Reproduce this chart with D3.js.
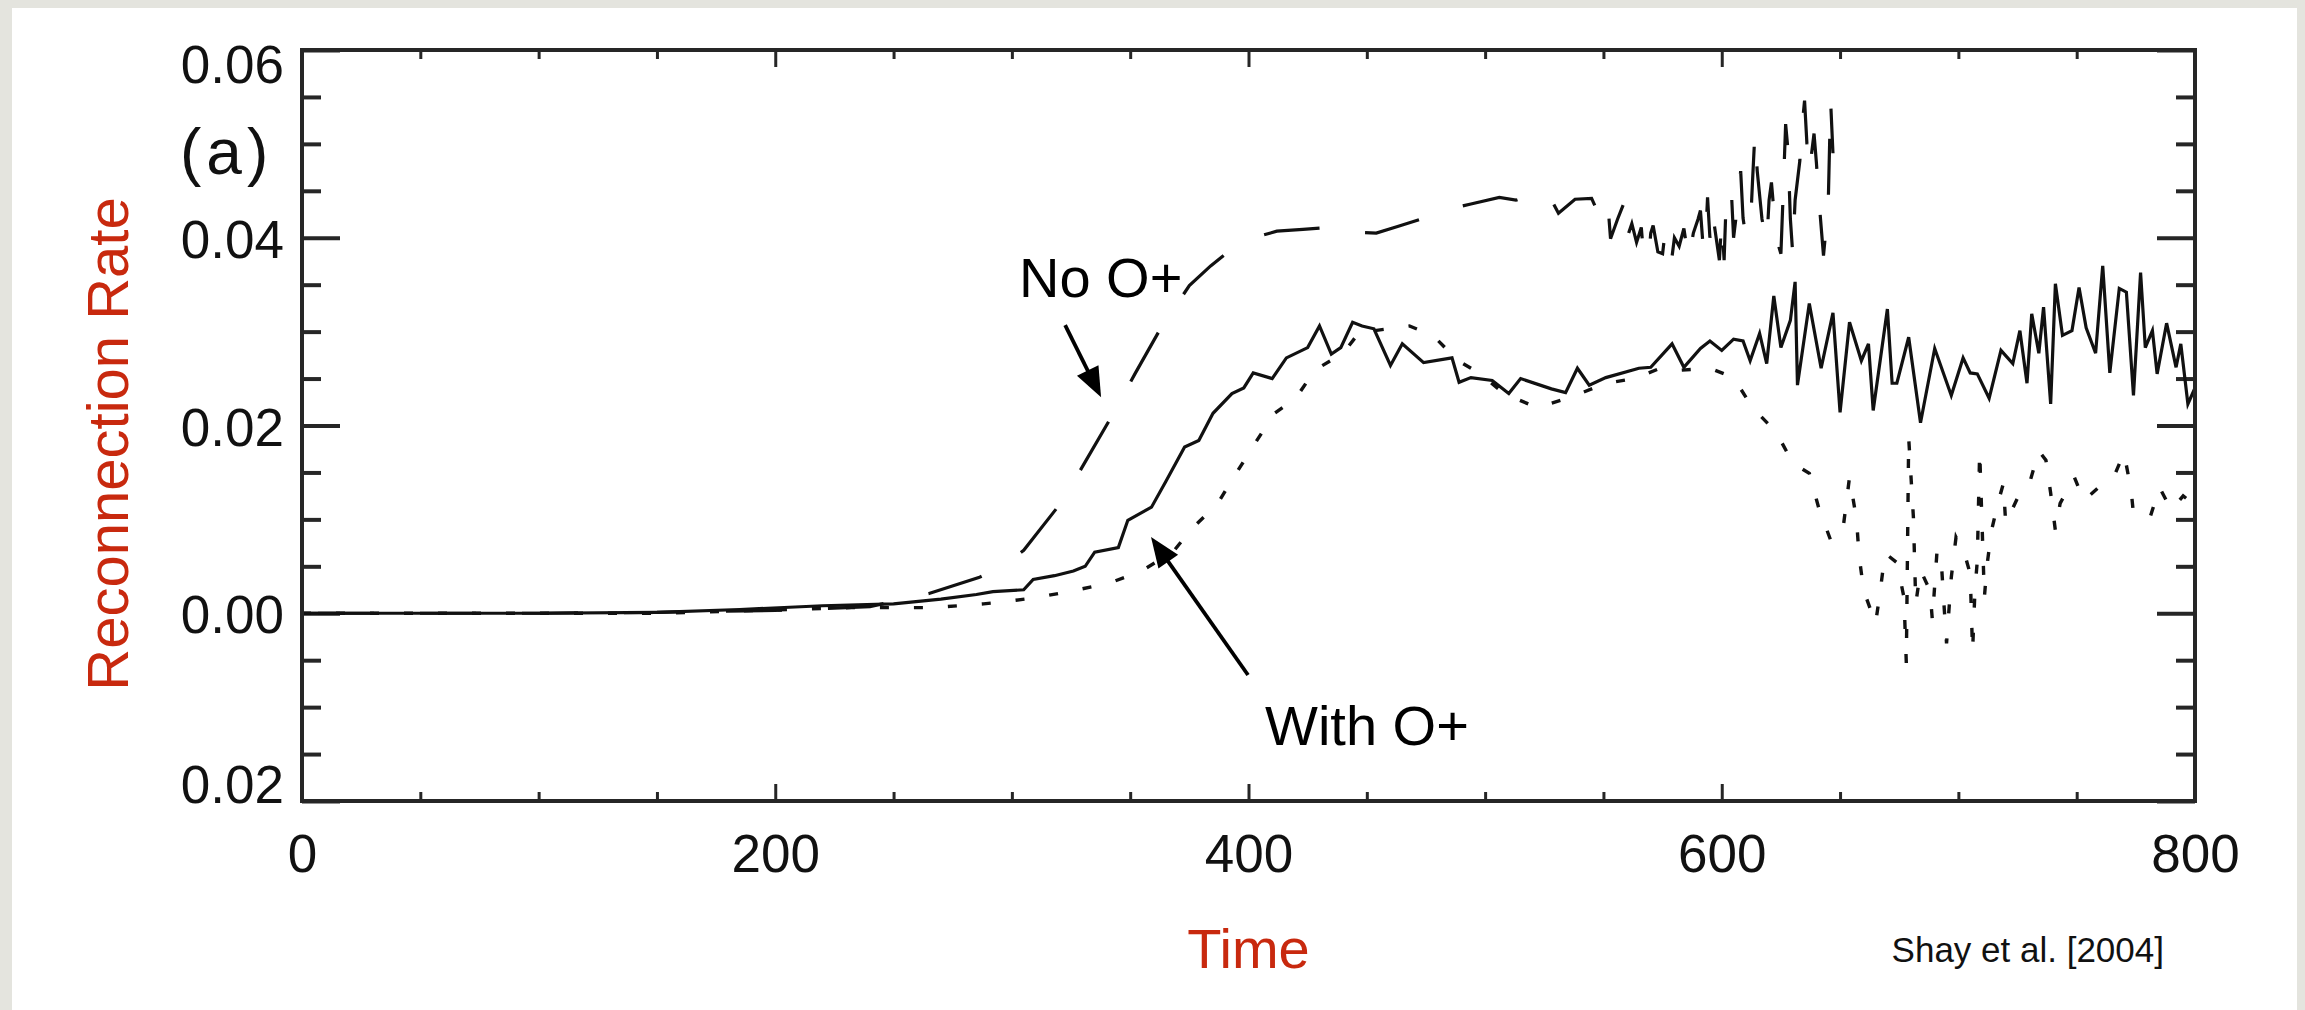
<!DOCTYPE html>
<html>
<head>
<meta charset="utf-8">
<script src="https://cdn.jsdelivr.net/npm/d3@7"></script>
<style>
  html, body { margin: 0; padding: 0; background: #e4e4de; }
  svg { display: block; }
  text { font-family: "Liberation Sans", Arial, Helvetica, sans-serif; }
</style>
</head>
<body>
<svg id="chart" width="2305" height="1010"></svg>
<script>
// ---- tick values and labels ----
const xMajorTicks = [0, 200, 400, 600, 800];
const xTickLabels = ["0", "200", "400", "600", "800"];
const yMajorTicks = [-0.02, 0.00, 0.02, 0.04, 0.06];
const yTickLabels = ["0.02", "0.00", "0.02", "0.04", "0.06"];

// ---- reconnection rate vs time, run with O+ (solid) ----
const withOxygen = [
  [0,0],[100,0],[150,0.0001],[185,0.0004],[220,0.0008],[250,0.0010],[270,0.0015],[285,0.0020],
  [292,0.0023],[305,0.0025],[309,0.0036],[318,0.0040],[326,0.0045],[331,0.0050],[335,0.0065],
  [345,0.0070],[349,0.0099],[359,0.0113],[365,0.0140],[373,0.0177],[379,0.0184],[385,0.0213],
  [393,0.0234],[398,0.0240],[402,0.0256],[410,0.0250],[416,0.0272],[425,0.0283],[430,0.0306],
  [435,0.0276],[439,0.0283],[444,0.0310],[448,0.0306],[453,0.0303],[460,0.0264],[465,0.0287],
  [474,0.0267],[486,0.0272],[489,0.0246],[494,0.0251],[503,0.0248],[510,0.0234],[515,0.0250],
  [528,0.0239],[534,0.0235],[539,0.0261],[544,0.0243],[551,0.0251],[565,0.0261],[570,0.0262],
  [579,0.0287],[584,0.0262],[591,0.0282],[595,0.0290],[600,0.0280],[605,0.0292],[609,0.0290],
  [612,0.0269],[616,0.0298],[619,0.0266],[622,0.0338],[625,0.0283],[629,0.0312],[631,0.0353],
  [632,0.0243],[637,0.0330],[642,0.0261],[647,0.0320],[650,0.0214],[654,0.0310],[659,0.0269],
  [662,0.0287],[664,0.0216],[670,0.0324],[672,0.0245],[674,0.0245],[679,0.0294],[684,0.0203],
  [690,0.0282],[697,0.0232],[702,0.0272],[705,0.0256],[708,0.0255],[713,0.0229],[718,0.0280],
  [723,0.0266],[726,0.0301],[729,0.0245],[731,0.0319],[734,0.0277],[736,0.0326],[739,0.0223],
  [741,0.0351],[744,0.0296],[748,0.0301],[751,0.0347],[754,0.0304],[758,0.0277],[761,0.0370],
  [764,0.0256],[768,0.0346],[771,0.0342],[774,0.0232],[777,0.0363],[779,0.0283],[782,0.0301],
  [784,0.0255],[788,0.0309],[792,0.0262],[794,0.0287],[797,0.0223],[800,0.0240]
];

// ---- run without O+ (long dashes) ----
const noOxygen = [
  [0,0],[100,0],[150,0.0001],[200,0.0003],[240,0.0007],[265,0.0021],[286,0.0038],[296,0.0050],
  [305,0.0067],[319,0.0112],[325,0.0135],[330,0.0157],[342,0.0209],[352,0.0255],[363,0.0304],
  [375,0.0349],[384,0.0370],[393,0.0388],[402,0.0400],[412,0.0407],[423,0.0409],[434,0.0411],
  [444,0.0406],[454,0.0405],[463,0.0412],[473,0.0420],[484,0.0430],[494,0.0436],[506,0.0443],
  [513,0.0440],[520,0.0446],[526,0.0450],[531,0.0426],[538,0.0441],[545,0.0442],[548,0.0425],
  [550,0.0416],[552,0.0432],[553,0.0399],[556,0.0420],[559,0.0439],[560,0.0400],[562,0.0415],
  [564,0.0395],[566,0.0411],[567,0.0380],[569,0.0376],[570,0.0405],[571,0.0413],[573,0.0385],
  [575,0.0383],[576,0.0405],[578,0.0410],[579,0.0380],[580,0.0400],[582,0.0391],[584,0.0410],
  [586,0.0376],[588,0.0405],[590,0.0420],[591,0.0429],[592,0.0395],[593,0.0389],[594,0.0443],
  [595,0.0400],[596,0.0431],[597,0.0411],[599,0.0376],[600,0.0420],[601,0.0376],[602,0.0450],
  [604,0.0453],[605,0.0400],[606,0.0421],[608,0.0471],[609,0.0421],[610,0.0404],[612,0.0404],
  [613,0.0460],[614,0.0511],[615,0.0471],[617,0.0420],[619,0.0394],[620,0.0440],[621,0.0459],
  [623,0.0400],[625,0.0383],[626,0.0450],[627,0.0521],[628,0.0493],[629,0.0420],[630,0.0383],
  [631,0.0440],[633,0.0482],[634,0.0520],[635,0.0546],[636,0.0500],[637,0.0470],[639,0.0511],
  [640,0.0480],[641,0.0443],[643,0.0381],[645,0.0436],[646,0.0546],[647,0.0490]
];

// ---- third run (dotted) ----
const dottedRun = [
  [0,0],[150,0],[232,0.0006],[267,0.0006],[288,0.0010],[296,0.0012],[311,0.0017],[326,0.0024],
  [341,0.0032],[354,0.0044],[368,0.0065],[376,0.0090],[387,0.0117],[395,0.0150],[403,0.0182],
  [411,0.0213],[420,0.0229],[428,0.0259],[440,0.0277],[448,0.0303],[453,0.0301],[468,0.0306],
  [478,0.0296],[488,0.0270],[498,0.0255],[508,0.0234],[522,0.0219],[536,0.0230],[551,0.0245],
  [563,0.0250],[574,0.0261],[583,0.0259],[595,0.0261],[605,0.0251],[613,0.0219],[623,0.0193],
  [630,0.0160],[637,0.0149],[641,0.0112],[646,0.0078],[651,0.0085],[654,0.0145],[657,0.0099],
  [658,0.0062],[660,0.0024],[665,-0.0011],[667,0.0024],[669,0.0064],[674,0.0054],[677,0.0017],
  [678,-0.0053],[679,0.0187],[681,0.0102],[682,0.0010],[684,0.0046],[688,0.0024],[689,-0.0007],
  [691,0.0067],[693,0.0046],[694,0.0006],[695,-0.0032],[697,0.0038],[699,0.0081],[703,0.0060],
  [705,0.0042],[706,-0.0041],[707,0.0024],[708,0.0056],[709,0.0173],[711,0.0017],[712,0.0049],
  [714,0.0088],[717,0.0120],[719,0.0138],[720,0.0096],[726,0.0128],[730,0.0138],[734,0.0173],
  [737,0.0163],[739,0.0128],[741,0.0088],[743,0.0117],[749,0.0145],[753,0.0120],[761,0.0138],
  [766,0.0147],[770,0.0171],[773,0.0131],[774,0.0106],[781,0.0102],[785,0.0134],[790,0.0110],
  [795,0.0125],[800,0.0115]
];

// ---- layout ----
const W = 2305, H = 1010;
const plot = { left: 302, right: 2195, top: 50, bottom: 801 };
const ink = "#262626";
const red = "#c8290e";

const svg = d3.select("#chart");

// white page panel over the grey surround
svg.append("rect").attr("x", 12).attr("y", 8).attr("width", W - 12 - 8).attr("height", H - 8)
  .attr("fill", "#ffffff");

const x = d3.scaleLinear().domain([0, 800]).range([plot.left, plot.right]);
const y = d3.scaleLinear().domain([-0.02, 0.06]).range([plot.bottom, plot.top]);

const xMinor = d3.range(0, 801, 50).filter(v => !xMajorTicks.includes(v));
const yMinor = d3.range(-0.02, 0.0601, 0.005).map(v => +v.toFixed(3))
  .filter(v => !yMajorTicks.some(m => Math.abs(m - v) < 1e-9));

function styleAxis(g, width) {
  g.select(".domain").remove();
  g.selectAll(".tick line").attr("stroke", ink).attr("stroke-width", width);
  g.selectAll(".tick text").attr("fill", "#111").attr("font-size", 53);
}

// bottom axis, major ticks with labels
const gBottom = svg.append("g").attr("transform", `translate(0,${plot.bottom})`)
  .call(d3.axisBottom(x).tickValues(xMajorTicks)
    .tickFormat((d, i) => xTickLabels[i]).tickSizeInner(-17).tickSizeOuter(0).tickPadding(33));
styleAxis(gBottom, 3);
const gBottomMinor = svg.append("g").attr("transform", `translate(0,${plot.bottom})`)
  .call(d3.axisBottom(x).tickValues(xMinor).tickFormat("").tickSizeInner(-9).tickSizeOuter(0));
styleAxis(gBottomMinor, 3);

// top axis, ticks only
const gTop = svg.append("g").attr("transform", `translate(0,${plot.top})`)
  .call(d3.axisTop(x).tickValues(xMajorTicks).tickFormat("").tickSizeInner(-17).tickSizeOuter(0));
styleAxis(gTop, 3);
const gTopMinor = svg.append("g").attr("transform", `translate(0,${plot.top})`)
  .call(d3.axisTop(x).tickValues(xMinor).tickFormat("").tickSizeInner(-9).tickSizeOuter(0));
styleAxis(gTopMinor, 3);

// left axis with labels
const gLeft = svg.append("g").attr("transform", `translate(${plot.left},0)`)
  .call(d3.axisLeft(y).tickValues(yMajorTicks)
    .tickFormat((d, i) => yTickLabels[i]).tickSizeInner(-38).tickSizeOuter(0).tickPadding(18));
styleAxis(gLeft, 4);
// the end labels sit inside the axis span
gLeft.selectAll(".tick text")
  .attr("dy", d => d === 0.06 ? "0.62em" : (d === -0.02 ? "0.02em" : "0.37em"));
const gLeftMinor = svg.append("g").attr("transform", `translate(${plot.left},0)`)
  .call(d3.axisLeft(y).tickValues(yMinor).tickFormat("").tickSizeInner(-19).tickSizeOuter(0));
styleAxis(gLeftMinor, 4);

// right axis, ticks only
const gRight = svg.append("g").attr("transform", `translate(${plot.right},0)`)
  .call(d3.axisRight(y).tickValues(yMajorTicks).tickFormat("").tickSizeInner(-38).tickSizeOuter(0));
styleAxis(gRight, 4);
const gRightMinor = svg.append("g").attr("transform", `translate(${plot.right},0)`)
  .call(d3.axisRight(y).tickValues(yMinor).tickFormat("").tickSizeInner(-19).tickSizeOuter(0));
styleAxis(gRightMinor, 4);

// curves
svg.append("clipPath").attr("id", "plotClip").append("rect")
  .attr("x", plot.left).attr("y", plot.top)
  .attr("width", plot.right - plot.left).attr("height", plot.bottom - plot.top);

const line = d3.line().x(d => x(d[0])).y(d => y(d[1]));
const curves = svg.append("g").attr("clip-path", "url(#plotClip)");

curves.append("path").datum(dottedRun).attr("d", line)
  .attr("fill", "none").attr("stroke", "#111").attr("stroke-width", 3.4)
  .attr("stroke-dasharray", "9 25").attr("stroke-linejoin", "miter");

curves.append("path").datum(noOxygen).attr("d", line)
  .attr("fill", "none").attr("stroke", "#111").attr("stroke-width", 3.2)
  .attr("stroke-dasharray", "56 46").attr("stroke-dashoffset", 86).attr("stroke-linejoin", "miter");

curves.append("path").datum(withOxygen).attr("d", line)
  .attr("fill", "none").attr("stroke", "#111").attr("stroke-width", 3.2)
  .attr("stroke-linejoin", "miter");

// plot frame
svg.append("rect").attr("x", plot.left).attr("y", plot.top)
  .attr("width", plot.right - plot.left).attr("height", plot.bottom - plot.top)
  .attr("fill", "none").attr("stroke", ink).attr("stroke-width", 4);

// panel tag
svg.append("text").attr("x", 180).attr("y", 174).attr("font-size", 64)
  .attr("letter-spacing", 5).attr("fill", "#111").text("(a)");

// axis titles
svg.append("text").attr("transform", "translate(128,444) rotate(-90)")
  .attr("text-anchor", "middle").attr("font-size", 58).attr("fill", red).text("Reconnection Rate");
svg.append("text").attr("x", x(400)).attr("y", 968).attr("text-anchor", "middle")
  .attr("font-size", 56).attr("fill", red).text("Time");

// citation
svg.append("text").attr("x", 2164).attr("y", 962).attr("text-anchor", "end")
  .attr("font-size", 35).attr("fill", "#111").text("Shay et al. [2004]");

// annotations with arrows (positions in data units)
const notes = [
  { label: "No O+", tx: 303, tv: 0.0337, from: [322.5, 0.0307], to: [337.7, 0.0230] },
  { label: "With O+", tx: 407, tv: -0.01403, from: [399.8, -0.00658], to: [358.8, 0.00812] }
];
const ann = svg.append("g");
notes.forEach(n => {
  ann.append("text").attr("x", x(n.tx)).attr("y", y(n.tv))
    .attr("font-size", 56).attr("fill", "#000").text(n.label);
  const x0 = x(n.from[0]), y0 = y(n.from[1]);
  const x1 = x(n.to[0]), y1 = y(n.to[1]);
  const ang = Math.atan2(y1 - y0, x1 - x0);
  const headLen = 30, headHalf = 12;
  const bx = x1 - headLen * Math.cos(ang), by = y1 - headLen * Math.sin(ang);
  ann.append("line").attr("x1", x0).attr("y1", y0).attr("x2", bx + 4 * Math.cos(ang)).attr("y2", by + 4 * Math.sin(ang))
    .attr("stroke", "#000").attr("stroke-width", 3.8);
  const px = -Math.sin(ang), py = Math.cos(ang);
  ann.append("polygon")
    .attr("points", [[x1, y1], [bx + headHalf * px, by + headHalf * py], [bx - headHalf * px, by - headHalf * py]]
      .map(p => p.join(",")).join(" "))
    .attr("fill", "#000");
});
</script>
</body>
</html>
